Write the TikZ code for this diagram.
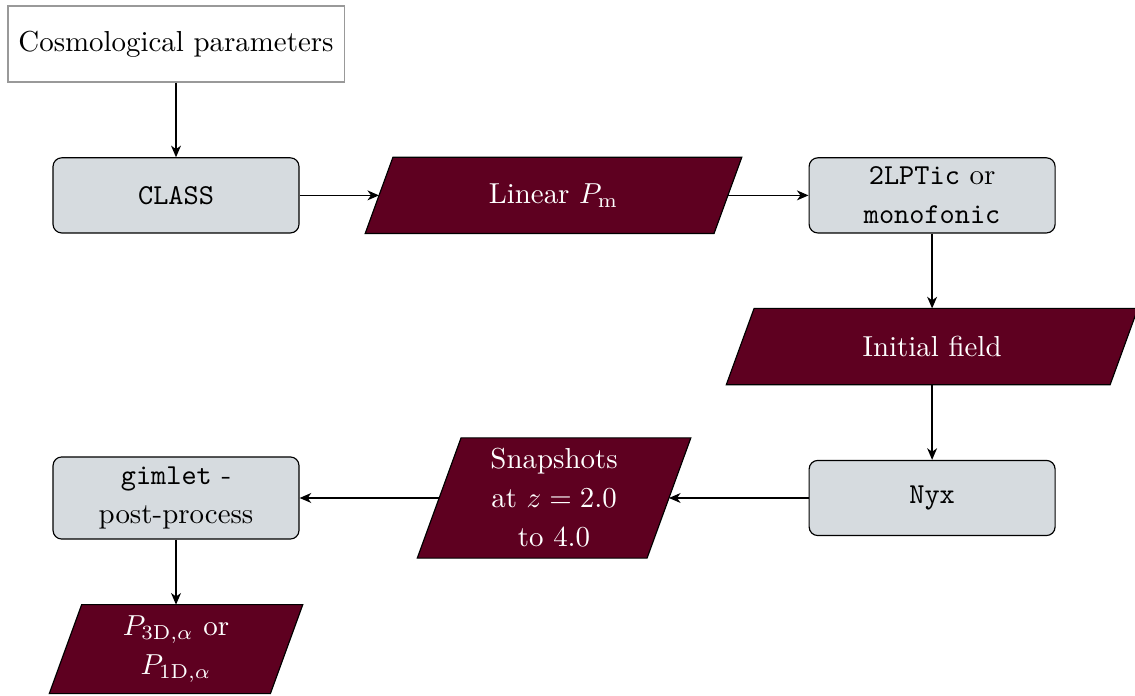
\documentclass[tikz,border=0pt]{standalone}
\usetikzlibrary{arrows.meta,calc,backgrounds}
\definecolor{maroon}{RGB}{94,0,32}
\definecolor{boxgray}{RGB}{214,219,223}
\tikzset{
  every node/.style={font=\fontsize{10}{13.5}\selectfont},
  startbox/.style={draw=black!40, line width=0.4pt, minimum width=116.3pt, minimum height=26.3pt, inner sep=0pt},
  proc/.style={draw=black, fill=boxgray, rounded corners=3pt, line width=0.4pt, minimum width=85.1pt, minimum height=26pt, align=center, inner sep=0pt},
  data/.style={rectangle, text=white, align=center, inner sep=0pt},
  datashape/.style={draw=black, line width=0.4pt, fill=maroon},
  conn/.style={-{Stealth[length=4pt,width=3.4pt,inset=1.2pt]}, line width=0.55pt},
}
\newcommand\paragon[1]{%
  \path[datashape] let \p1=(#1.north east), \p2=(#1.south west), \n1={0.182*(\y1-\y2)} in
    (\x2-\n1,\y2) -- (\x1-\n1,\y2) -- (\x1+\n1,\y1) -- (\x2+\n1,\y1) -- cycle;}
\begin{document}
\begin{tikzpicture}[x=1pt,y=1pt]
\useasboundingbox (0,0) rectangle (392.7,-240.5);
\node[startbox] (cosmo) at (60.9,-15.2) {Cosmological parameters};
\node[proc] (class) at (60.9,-67.6) {\texttt{CLASS}};
\node[data, minimum width=120.3pt, minimum height=26pt] (linpm) at (191.5,-67.6) {Linear $P_\mathrm{m}$};
\node[proc] (lpt) at (322.5,-67.6) {\texttt{2LPTic} or\\\texttt{monofonic}};
\node[data, minimum width=132.4pt, minimum height=26pt] (init) at (322.5,-119.9) {Initial field};
\node[proc] (nyx) at (322.5,-172.3) {\texttt{Nyx}};
\node[data, minimum width=79.1pt, minimum height=41.2pt] (snap) at (191.7,-172.3) {Snapshots\\at $z=2.0$\\to 4.0};
\node[proc, minimum height=28.4pt] (gimlet) at (60.9,-172.3) {\texttt{gimlet} -\\post-process};
\node[data, minimum width=76.1pt, minimum height=30.4pt] (pout) at (60.9,-224.6) {$P_{\mathrm{3D},\alpha}$ or\\$P_{\mathrm{1D},\alpha}$};
\begin{scope}[on background layer]
\paragon{linpm}
\paragon{init}
\paragon{snap}
\paragon{pout}
\end{scope}
\draw[conn] (cosmo) -- (class);
\draw[conn] (class) -- (linpm);
\draw[conn] (linpm) -- (lpt);
\draw[conn] (lpt) -- (init);
\draw[conn] (init) -- (nyx);
\draw[conn] (nyx) -- (snap);
\draw[conn] (snap) -- (gimlet);
\draw[conn] (gimlet) -- (pout);
\end{tikzpicture}
\end{document}
